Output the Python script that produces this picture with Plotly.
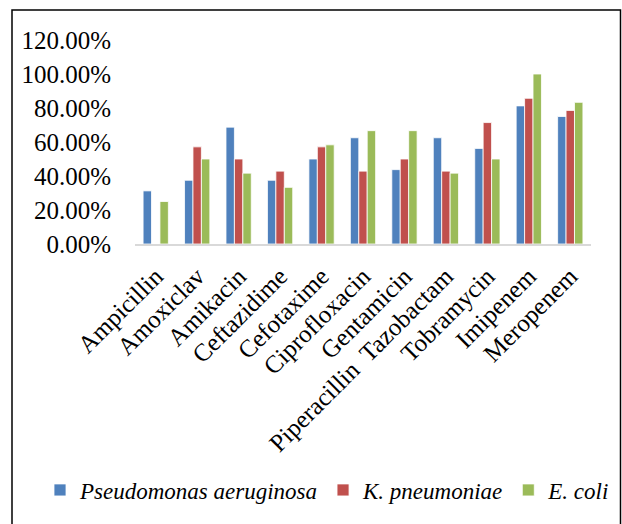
import plotly.graph_objects as go

categories = ["Ampicillin", "Amoxiclav", "Amikacin", "Ceftazidime", "Cefotaxime",
              "Ciprofloxacin", "Gentamicin", "Piperacillin  Tazobactam", "Tobramycin",
              "Imipenem", "Meropenem"]
pseudomonas = [0.3125, 0.375, 0.6875, 0.375, 0.50, 0.625, 0.4375, 0.625, 0.5625, 0.8125, 0.75]
kpneumoniae = [0.0, 0.5714, 0.50, 0.4286, 0.5714, 0.4286, 0.50, 0.4286, 0.7143, 0.8571, 0.7857]
ecoli = [0.25, 0.50, 0.4167, 0.3333, 0.5833, 0.6667, 0.6667, 0.4167, 0.50, 1.0, 0.8333]
series_names = ["<i>Pseudomonas aeruginosa</i>", "<i>K. pneumoniae</i>", "<i>E. coli</i>"]
colors = ["#4F81BD", "#C0504D", "#9BBB59"]
y_ticks = [0, 0.2, 0.4, 0.6, 0.8, 1.0, 1.2]

FONT = "Liberation Serif"

fig = go.Figure()
for name, vals, col in zip(series_names, [pseudomonas, kpneumoniae, ecoli], colors):
    fig.add_trace(go.Bar(x=categories, y=vals, name=name,
                         marker=dict(color=col, line=dict(color="white", width=0.8))))

W, H = 622, 524
L, R, T, B = 135, 31, 40, 280
pw, ph = W - L - R, H - T - B

def px(x):
    return (x - L) / pw

def py(y):
    return (H - B - y) / ph

fig.update_layout(
    width=W, height=H,
    margin=dict(l=L, r=R, t=T, b=B, pad=0, autoexpand=False),
    paper_bgcolor="white", plot_bgcolor="white",
    barmode="group", bargap=0.39, bargroupgap=0,
    font=dict(family=FONT, size=25, color="black"),
    showlegend=True,
    legend=dict(orientation="h", x=px(40), y=py(490), xanchor="left", yanchor="middle",
                font=dict(family=FONT, size=23, color="black"),
                itemwidth=30, tracegroupgap=0, bgcolor="rgba(0,0,0,0)"),
    xaxis=dict(tickangle=-45, showline=True, linecolor="#D9D9D9", linewidth=1.5,
               ticks="outside", ticklen=6, tickcolor="rgba(0,0,0,0)", showgrid=False,
               automargin=False, tickfont=dict(family=FONT, size=25)),
    yaxis=dict(range=[0, 1.2], tickvals=y_ticks, tickformat=".2%", showgrid=False,
               zeroline=False, showline=False, ticks="outside", ticklen=18,
               tickcolor="rgba(0,0,0,0)", automargin=False,
               tickfont=dict(family=FONT, size=25)),
    shapes=[dict(type="rect", xref="paper", yref="paper",
                 x0=px(12), x1=px(620.5), y0=py(10), y1=py(540),
                 line=dict(color="black", width=1.5), fillcolor="rgba(0,0,0,0)", layer="above")],
)

fig.write_html("out.html", config={"displayModeBar": False},
               post_script="document.body.style.margin='0';")
